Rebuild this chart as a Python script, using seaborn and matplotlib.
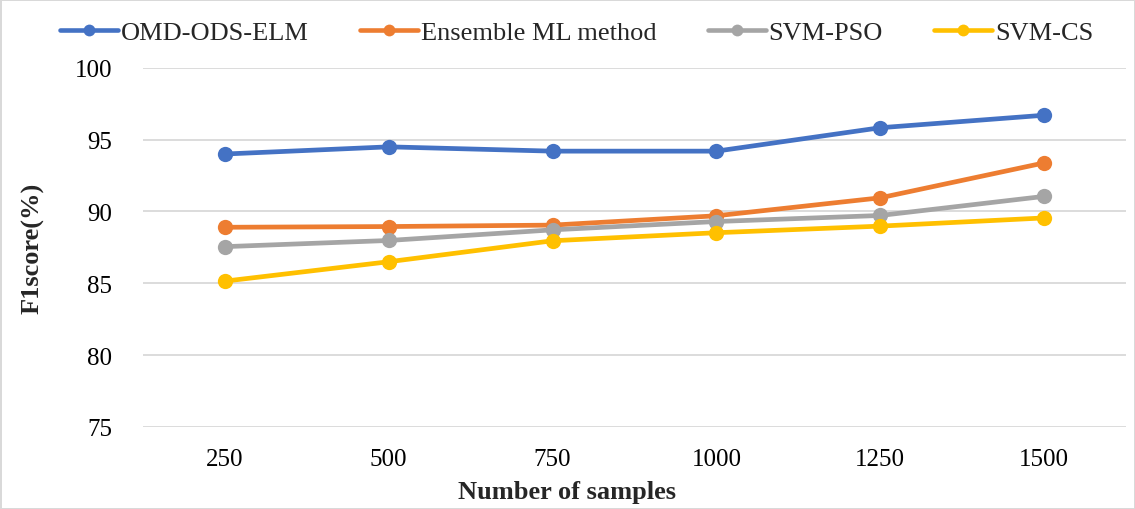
import matplotlib
matplotlib.use("Agg")
import matplotlib.pyplot as plt
import seaborn as sns
import pandas as pd

samples = ["250", "500", "750", "1000", "1250", "1500"]
omd_ods_elm = [94.0, 94.5, 94.2, 94.2, 95.83, 96.7]
ensemble_ml = [88.9, 88.95, 89.05, 89.7, 90.95, 93.38]
svm_pso = [87.55, 87.98, 88.72, 89.3, 89.72, 91.05]
svm_cs = [85.15, 86.5, 87.96, 88.52, 88.98, 89.55]

methods = ["OMD-ODS-ELM", "Ensemble ML method", "SVM-PSO", "SVM-CS"]
series = [omd_ods_elm, ensemble_ml, svm_pso, svm_cs]
colors = ["#4472C4", "#ED7D31", "#A5A5A5", "#FFC000"]

rows = []
for name, vals in zip(methods, series):
    for s, v in zip(samples, vals):
        rows.append({"Number of samples": s, "F1score(%)": v, "Method": name})
df = pd.DataFrame(rows)

sns.set_theme(style="white")
plt.rcParams["font.family"] = ["Liberation Serif", "DejaVu Serif"]

fig = plt.figure(figsize=(11.35, 5.1), dpi=100)
fig.patch.set_edgecolor("#D9D9D9")
fig.patch.set_linewidth(2)
ax = fig.add_axes([0.126, 0.161, 0.866, 0.704])

sns.lineplot(data=df, x="Number of samples", y="F1score(%)", hue="Method",
             hue_order=methods, palette=colors, marker="o", markersize=11,
             markeredgewidth=0, linewidth=3.4, sort=False, ax=ax)

ax.set_xlim(-0.5, 5.5)
ax.set_ylim(75, 100)
ax.set_yticks([75, 80, 85, 90, 95, 100])
ax.yaxis.grid(True, color="#D9D9D9", linewidth=1.3)
ax.set_axisbelow(True)
for sp in ax.spines.values():
    sp.set_visible(False)
ax.tick_params(axis="both", length=0, labelsize=18, colors="black")
ax.tick_params(axis="x", pad=15)
ax.tick_params(axis="y", pad=22)
ax.set_xlabel("")
ax.set_ylabel("F1score(%)", fontsize=19, fontweight="bold", labelpad=22)
fig.text(0.5, 1 - 493 / 510, "Number of samples", ha="center", va="center",
         fontsize=19, fontweight="bold")

handles, labels = ax.get_legend_handles_labels()
leg = ax.legend(handles, labels, loc="center", bbox_to_anchor=(0.508, 1 - 33 / 510),
                bbox_transform=fig.transFigure, ncol=4, frameon=False, fontsize=19,
                handlelength=2.2, handletextpad=0.1, columnspacing=1.95)
for h in leg.legend_handles:
    h.set_linewidth(3.3)
    h.set_markersize(8.5)

fig.savefig("out.png", dpi=100)
